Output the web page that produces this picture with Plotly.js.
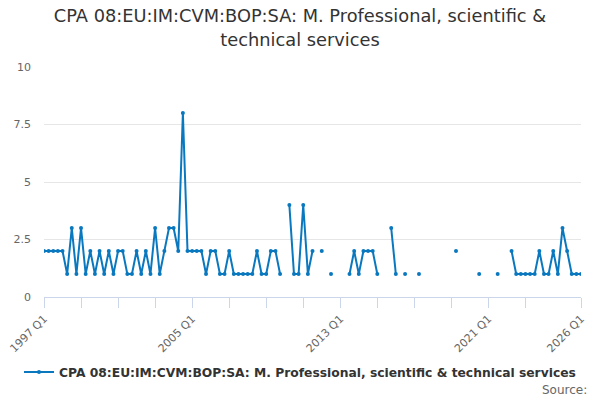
<!DOCTYPE html>
<html>
<head>
<meta charset="utf-8">
<script src="https://cdn.plot.ly/plotly-3.0.1.min.js"></script>
<style>
  html, body { margin: 0; padding: 0; background: #fff; }
  #chart { width: 600px; height: 400px; }
</style>
</head>
<body>
<div id="chart"></div>
<script>
// quarters 1997 Q1 .. 2026 Q1
const quarters = [];
for (let y = 1997; y <= 2026; y++) {
  for (let q = 1; q <= 4; q++) {
    if (y === 2026 && q > 1) break;
    quarters.push(y + ' Q' + q);
  }
}

// values, null = no data
const values = [
  2, 2, 2, 2, 2, 1, 3, 1, 3, 1,        // 1997 Q1 - 1999 Q2
  2, 1, 2, 1, 2, 1, 2, 2, 1, 1,        // 1999 Q3 - 2001 Q4
  2, 1, 2, 1, 3, 1, 2, 3, 3, 2,        // 2002 Q1 - 2004 Q2
  8, 2, 2, 2, 2, 1, 2, 2, 1, 1,        // 2004 Q3 - 2006 Q4
  2, 1, 1, 1, 1, 1, 2, 1, 1, 2,        // 2007 Q1 - 2009 Q2
  2, 1, null, 4, 1, 1, 4, 1, 2, null,  // 2009 Q3 - 2011 Q4
  2, null, 1, null, null, null, 1, 2, 1, 2, // 2012 Q1 - 2014 Q2
  2, 2, 1, null, null, 3, 1, null, 1, null, // 2014 Q3 - 2016 Q4
  null, 1, null, null, null, null, null, null, null, 2, // 2017 Q1 - 2019 Q2
  null, null, null, null, 1, null, null, null, 1, null, // 2019 Q3 - 2021 Q4
  null, 2, 1, 1, 1, 1, 1, 2, 1, 1,     // 2022 Q1 - 2024 Q2
  2, 1, 3, 2, 1, 1, 1                  // 2024 Q3 - 2026 Q1
];

const seriesName = 'CPA 08:EU:IM:CVM:BOP:SA: M. Professional, scientific & technical services';
const titleText = 'CPA 08:EU:IM:CVM:BOP:SA: M. Professional, scientific &<br>technical services';

// ticks every two years, labels every eight, plus the last quarter
const tickVals = [];
const tickText = [];
for (let y = 1997; y <= 2023; y += 2) {
  tickVals.push(y + ' Q1');
  tickText.push((y - 1997) % 8 === 0 ? y + ' Q1' : '');
}
tickVals.push('2026 Q1');
tickText.push('2026 Q1');

const yTicks = [0, 2.5, 5, 7.5, 10];

const lineColor = '#0a78bf';

const trace = {
  x: quarters,
  y: values,
  type: 'scatter',
  mode: 'lines+markers',
  name: seriesName,
  connectgaps: false,
  line: { color: lineColor, width: 2 },
  marker: { color: lineColor, size: 4 },
  hoverinfo: 'none'
};

const layout = {
  width: 600,
  height: 400,
  margin: { l: 44, r: 19, t: 67, b: 103 },
  paper_bgcolor: '#fff',
  plot_bgcolor: '#fff',
  font: { family: 'DejaVu Sans, sans-serif', color: '#666' },
  title: {
    text: titleText,
    font: { size: 17.8, color: '#333' },
    x: 0.5,
    xanchor: 'center',
    xref: 'container',
    yref: 'container',
    y: 0.944,
    yanchor: 'top'
  },
  showlegend: true,
  legend: {
    orientation: 'h',
    xref: 'container',
    yref: 'container',
    x: 0.5,
    xanchor: 'center',
    y: 0.07,
    yanchor: 'middle',
    font: { size: 12.3, color: '#333', weight: 'bold' }
  },
  xaxis: {
    type: 'category',
    range: [0, quarters.length - 1],
    tickmode: 'array',
    tickvals: tickVals,
    ticktext: tickText,
    tickangle: -45,
    tickfont: { size: 11, color: '#666' },
    ticks: 'outside',
    ticklen: 10,
    tickcolor: '#ccd6eb',
    showline: true,
    linecolor: '#ccd6eb',
    linewidth: 1,
    showgrid: false,
    zeroline: false,
    automargin: false,
    fixedrange: true
  },
  yaxis: {
    range: [0, 10],
    tickmode: 'array',
    tickvals: yTicks,
    ticktext: yTicks.map(String),
    tickfont: { size: 11, color: '#666' },
    ticklabelstandoff: 12,
    showgrid: true,
    gridcolor: '#e6e6e6',
    zeroline: false,
    showline: false,
    automargin: false,
    fixedrange: true
  },
  annotations: [{
    text: 'Source:',
    xref: 'paper',
    yref: 'paper',
    x: 1.015,
    y: -0.404,
    xanchor: 'right',
    yanchor: 'middle',
    showarrow: false,
    font: { size: 12, color: '#666' }
  }]
};

Plotly.newPlot('chart', [trace], layout, { displayModeBar: false, staticPlot: true });
</script>
</body>
</html>
